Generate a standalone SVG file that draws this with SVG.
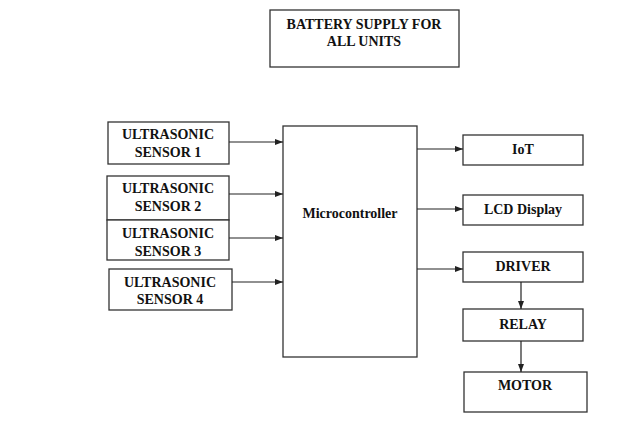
<svg xmlns="http://www.w3.org/2000/svg" width="624" height="430" viewBox="0 0 624 430">
<defs>
<style>
.box{fill:#fff;stroke:#333;stroke-width:1.3}
.t{font-family:"Liberation Serif","Times New Roman",serif;font-weight:bold;font-size:14px;fill:#111;text-anchor:middle}
.c{stroke:#222;stroke-width:1.2;fill:none;marker-end:url(#ah)}
</style>
<marker id="ah" markerWidth="9" markerHeight="8" refX="8" refY="4" orient="auto" markerUnits="userSpaceOnUse">
<path d="M0,1 L8,4 L0,7 Z" fill="#222"/>
</marker>
</defs>
<rect width="624" height="430" fill="#fff"/>
<g id="battery"><rect class="box" x="270" y="10" width="189" height="57"/><text class="t" x="364" y="29">BATTERY SUPPLY FOR</text><text class="t" x="364" y="46">ALL UNITS</text></g>
<g id="sensor1"><rect class="box" x="108" y="122" width="121" height="42"/><text class="t" x="168" y="139">ULTRASONIC</text><text class="t" x="168" y="157">SENSOR 1</text></g>
<g id="sensor2"><rect class="box" x="107" y="176" width="122" height="44"/><text class="t" x="168" y="193">ULTRASONIC</text><text class="t" x="168" y="211">SENSOR 2</text></g>
<g id="sensor3"><rect class="box" x="107" y="220" width="122" height="40"/><text class="t" x="168" y="238">ULTRASONIC</text><text class="t" x="168" y="256">SENSOR 3</text></g>
<g id="sensor4"><rect class="box" x="109" y="269" width="123" height="41"/><text class="t" x="170" y="287">ULTRASONIC</text><text class="t" x="170" y="304">SENSOR 4</text></g>
<g id="micro"><rect class="box" x="283" y="126" width="134" height="231"/><text class="t" x="350" y="218">Microcontroller</text></g>
<g id="iot"><rect class="box" x="463" y="135" width="120" height="30"/><text class="t" x="523" y="154">IoT</text></g>
<g id="lcd"><rect class="box" x="463" y="195" width="120" height="30"/><text class="t" x="523" y="214">LCD Display</text></g>
<g id="driver"><rect class="box" x="463" y="252" width="120" height="30"/><text class="t" x="523" y="271">DRIVER</text></g>
<g id="relay"><rect class="box" x="463" y="309" width="120" height="32"/><text class="t" x="523" y="329">RELAY</text></g>
<g id="motor"><rect class="box" x="464" y="372" width="123" height="40"/><text class="t" x="525" y="390">MOTOR</text></g>
<g id="connectors">
<line class="c" x1="229" y1="142" x2="283" y2="142"/>
<line class="c" x1="229" y1="194" x2="283" y2="194"/>
<line class="c" x1="229" y1="238" x2="283" y2="238"/>
<line class="c" x1="232" y1="282" x2="283" y2="282"/>
<line class="c" x1="417" y1="149" x2="463" y2="149"/>
<line class="c" x1="417" y1="209" x2="463" y2="209"/>
<line class="c" x1="417" y1="269" x2="463" y2="269"/>
<line class="c" x1="521" y1="282" x2="521" y2="309"/>
<line class="c" x1="521" y1="341" x2="521" y2="372"/>
</g>
</svg>
